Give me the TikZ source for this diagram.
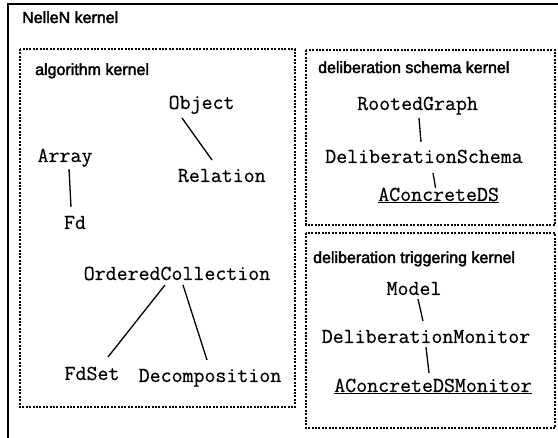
\documentclass[tikz,border=0pt]{standalone}
\usepackage{fontspec}
\setmainfont{Liberation Sans}
\newfontfamily\titlefont{Liberation Sans}[FakeBold=2.5]
\newfontfamily\classfont{Latin Modern Mono}[FakeBold=0.5]
\begin{document}
\begin{tikzpicture}[x=1pt,y=-1pt,
  kernelbox/.style={draw, line width=1.2pt, dash pattern=on 2pt off 1.4pt},
  titletext/.style={anchor=base west, inner sep=0pt, font=\titlefont\fontsize{16}{18}\selectfont},
  cls/.style={anchor=base, inner sep=0pt, font=\classfont\fontsize{21.3}{23}\selectfont},
  link/.style={line width=1.3pt}]
\useasboundingbox (0,0) rectangle (558,438);
% outer kernel frame, open to the right and bottom
\begin{scope}
  \clip (0,0) rectangle (558,438);
  \draw[line width=1.6pt] (8,4) rectangle (600,480);
\end{scope}
\node[titletext] (tnellen) at (22,23) {NelleN kernel};

% algorithm kernel
\draw[kernelbox] (20,49) rectangle (295,407);
\node[titletext] (talg) at (35,75) {algorithm kernel};
\node[cls] (obj) at (201.6,109) {Object};
\node[cls] (arr) at (65,162) {Array};
\node[cls] (rel) at (221.8,182) {Relation};
\node[cls] (fd)  at (75,229) {Fd};
\node[cls] (oc)  at (177,280) {OrderedCollection};
\node[cls] (fds) at (92,380) {FdSet};
\node[cls] (dec) at (210,382) {Decomposition};
\draw[link] ([shift={(-19.6,9)}]obj.base) -- ([shift={(-9.8,-22)}]rel.base);
\draw[link] ([shift={(4,7)}]arr.base) -- ([shift={(-4,-22)}]fd.base);
\draw[link] ([shift={(-12,5)}]oc.base) -- ([shift={(16,-23)}]fds.base);
\draw[link] ([shift={(6,5)}]oc.base) -- ([shift={(-3,-22)}]dec.base);

% deliberation schema kernel
\draw[kernelbox] (306,50) rectangle (555,225);
\node[titletext] (tschema) at (318,73) {deliberation schema kernel};
\node[cls] (rg)  at (417.6,110) {RootedGraph};
\node[cls] (ds)  at (424,163) {DeliberationSchema};
\node[cls] (acd) at (438.6,201) {\underline{AConcreteDS}};
\draw[link] ([shift={(1.4,8)}]rg.base) -- ([shift={(-3,-21)}]ds.base);
\draw[link] ([shift={(9,10)}]ds.base) -- ([shift={(-3,-13)}]acd.base);

% deliberation triggering kernel
\draw[kernelbox] (306,233) rectangle (555,428);
\node[titletext] (ttrig) at (313,263) {deliberation triggering kernel};
\node[cls] (mod) at (414,295) {Model};
\node[cls] (dm)  at (426,343) {DeliberationMonitor};
\node[cls] (acm) at (433,392) {\underline{AConcreteDSMonitor}};
\draw[link] ([shift={(4,4)}]mod.base) -- ([shift={(-3,-22)}]dm.base);
\draw[link] ([shift={(0,4)}]dm.base) -- ([shift={(-4,-19)}]acm.base);
\end{tikzpicture}
\end{document}
